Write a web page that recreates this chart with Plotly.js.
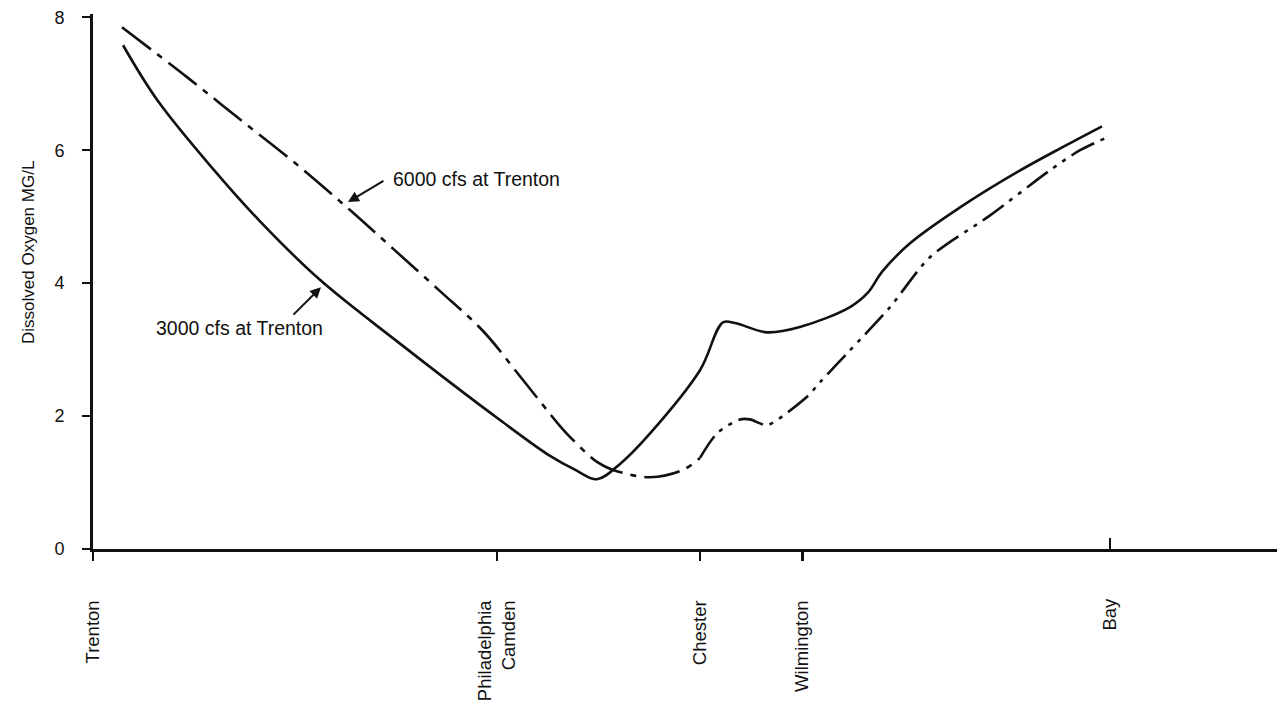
<!DOCTYPE html>
<html>
<head>
<meta charset="utf-8">
<script src="https://cdn.plot.ly/plotly-3.0.1.min.js"></script>
<style>
  html, body { margin: 0; padding: 0; background: #ffffff; }
  #chart { width: 1277px; height: 703px; }
</style>
</head>
<body>
<div id="chart"></div>
<script>
// Distance downstream from Trenton (miles, approx.)
const stationNames = ["Trenton", "Philadelphia<br>Camden", "Chester", "Wilmington", "Bay"];
const stationPos   = [0, 34.0, 51.1, 59.7, 85.6];

// 3000 cfs at Trenton (solid)
const flow3000X = [2.53, 5.39, 10.1, 14.06, 19.1, 25.84, 34.26, 38.47, 40.6, 42.42, 44.36, 46.89, 51.09,
                   53.03, 54.04, 56.73, 59.5, 63.72, 65.24, 66.41, 68.77, 72.98, 77.78, 81.65, 84.93];
const flow3000Y = [7.58, 6.76, 5.72, 4.93, 4.05, 3.09, 1.94, 1.40, 1.19, 1.05, 1.28, 1.74, 2.69,
                   3.41, 3.40, 3.26, 3.34, 3.64, 3.86, 4.17, 4.60, 5.14, 5.67, 6.05, 6.36];

// 6000 cfs at Trenton (dash-dot upstream part)
const flow6000aX = [2.44, 7.91, 12.54, 17.26, 21.63, 25.25, 29.21, 32.83, 35.94, 39.31, 40.4, 42.42, 43.77, 46.89, 49.66, 51.09];
const flow6000aY = [7.85, 7.10, 6.44, 5.77, 5.10, 4.52, 3.88, 3.28, 2.60, 1.85, 1.64, 1.31, 1.19, 1.08, 1.19, 1.37];
// 6000 cfs at Trenton (dash-dot-dot downstream part)
const flow6000bX = [51.09, 52.53, 54.46, 55.3, 56.14, 56.73, 60.1, 61.2, 63.72, 67.09, 70.45, 75.51, 80.56, 83.08, 85.19];
const flow6000bY = [1.37, 1.74, 1.95, 1.95, 1.89, 1.86, 2.29, 2.51, 2.99, 3.64, 4.39, 5.02, 5.70, 6.00, 6.18];

const yTicks = [0, 2, 4, 6, 8];

const FONT = "Liberation Sans, Arial, Helvetica, sans-serif";
const INK = "#111111";

const traces = [
  { x: flow3000X, y: flow3000Y, mode: "lines", name: "3000 cfs",
    line: { color: INK, width: 2.6, shape: "spline", smoothing: 1.0 }, hoverinfo: "skip" },
  { x: flow6000aX, y: flow6000aY, mode: "lines", name: "6000 cfs",
    line: { color: INK, width: 2.6, shape: "spline", smoothing: 1.0, dash: "36px,8px,6px,8px" }, hoverinfo: "skip" },
  { x: flow6000bX, y: flow6000bY, mode: "lines", name: "6000 cfs b",
    line: { color: INK, width: 2.6, shape: "spline", smoothing: 0.8, dash: "26px,7px,4px,7px,4px,7px" }, hoverinfo: "skip" }
];

const xRange = [0, 99.66];

const layout = {
  width: 1277, height: 703,
  margin: { l: 93, r: 0, t: 14, b: 154 },
  paper_bgcolor: "#ffffff", plot_bgcolor: "#ffffff",
  showlegend: false,
  font: { family: FONT, color: INK },
  xaxis: {
    range: xRange, showgrid: false, zeroline: false,
    showline: true, linewidth: 3, linecolor: INK,
    ticks: "outside", ticklen: 9, tickwidth: 2.5, tickcolor: INK,
    tickvals: stationPos.slice(0, 4), ticktext: stationNames.slice(0, 4),
    tickangle: -90, ticklabelstandoff: 32,
    tickfont: { family: FONT, size: 18.5, color: INK }
  },
  xaxis2: {
    range: xRange, overlaying: "x", anchor: "y", side: "bottom",
    showgrid: false, zeroline: false, showline: false,
    ticks: "inside", ticklen: 11, tickwidth: 2.5, tickcolor: INK,
    tickvals: stationPos.slice(4), ticktext: stationNames.slice(4),
    tickangle: -90, ticklabelstandoff: 45,
    tickfont: { family: FONT, size: 18.5, color: INK }
  },
  yaxis: {
    range: [0, 8.05], showgrid: false, zeroline: false,
    showline: true, linewidth: 3, linecolor: INK,
    ticks: "outside", ticklen: 8, tickwidth: 2, tickcolor: INK,
    tickvals: yTicks, ticktext: yTicks.map(String),
    ticklabelstandoff: 14,
    tickfont: { family: FONT, size: 18, color: INK }
  },
  annotations: [
    { xref: "paper", yref: "paper", x: -0.055, y: 0.555, xanchor: "center", yanchor: "middle",
      text: "Dissolved Oxygen MG/L", textangle: -90, showarrow: false,
      font: { family: FONT, size: 17, color: INK } },
    { x: 32.24, y: 5.56, xref: "x", yref: "y", text: "6000 cfs at Trenton", showarrow: false,
      font: { family: FONT, size: 19.5, color: INK } },
    { x: 21.46, y: 5.22, xref: "x", yref: "y", text: "", showarrow: true,
      ax: 37, ay: -22, arrowhead: 2, arrowsize: 1.1, arrowwidth: 2, arrowcolor: INK },
    { x: 12.37, y: 3.32, xref: "x", yref: "y", text: "3000 cfs at Trenton", showarrow: false,
      font: { family: FONT, size: 19.5, color: INK } },
    { x: 19.19, y: 3.94, xref: "x", yref: "y", text: "", showarrow: true,
      ax: -29, ay: 29, arrowhead: 2, arrowsize: 1.1, arrowwidth: 2, arrowcolor: INK }
  ]
};

// invisible helper trace so the overlaying axis (Bay tick) is drawn
traces.push({ x: [stationPos[4]], y: [0], xaxis: "x2", yaxis: "y", mode: "markers",
  marker: { opacity: 0 }, hoverinfo: "skip", showlegend: false });

Plotly.newPlot("chart", traces, layout, { staticPlot: true, displayModeBar: false });
</script>
</body>
</html>
